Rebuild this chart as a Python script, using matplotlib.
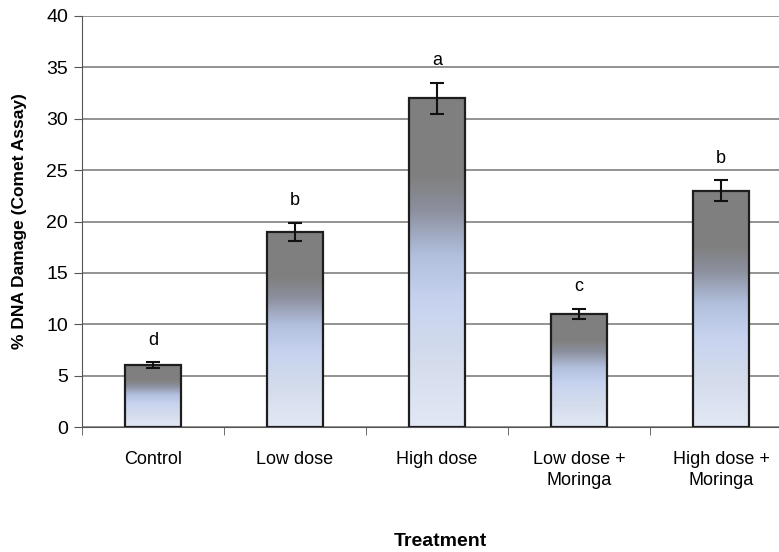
import numpy as np
import matplotlib
matplotlib.use("Agg")
import matplotlib.pyplot as plt
from matplotlib.colors import LinearSegmentedColormap

plt.rcParams['font.family'] = ['Liberation Sans', 'DejaVu Sans']

# data
categories = ["Control", "Low dose", "High dose", "Low dose +\nMoringa", "High dose +\nMoringa"]
damage = [6.0, 19.0, 32.0, 11.0, 23.0]
errors = [0.3, 0.9, 1.5, 0.5, 1.0]
letters = ["d", "b", "a", "c", "b"]

fig = plt.figure(figsize=(7.79, 5.52), dpi=100)
ax = fig.add_axes([82 / 779, 1 - 427 / 552, 710 / 779, (427 - 16) / 552])

x = np.arange(len(categories))
bars = ax.bar(x, damage, width=0.39, facecolor='none', edgecolor='#1e1e1e',
              linewidth=1.6, zorder=3)

# gradient fill, gray at top to pale blue at bottom
cmap = LinearSegmentedColormap.from_list("grad", [
    (0.0, "#e2e8f5"), (0.2, "#d4dcec"), (0.38, "#c7d3ef"),
    (0.52, "#b2c0de"), (0.66, "#8c909e"), (0.76, "#808080"), (1.0, "#7f7f7f")])
grad = np.linspace(0, 1, 256).reshape(-1, 1)
for b in bars:
    x0, w, h = b.get_x(), b.get_width(), b.get_height()
    im = ax.imshow(grad, cmap=cmap, origin='lower', aspect='auto',
                   extent=[x0, x0 + w, 0, h], zorder=2)
    im.set_clip_path(b)

ax.errorbar(x, damage, yerr=errors, fmt='none', ecolor='#111111',
            elinewidth=1.5, capsize=5, capthick=1.5, zorder=4)

for xi, v, e, t in zip(x, damage, errors, letters):
    ax.text(xi, v + e + 1.3, t, ha='center', va='bottom', fontsize=13)

ax.set_xlim(-0.5, 4.5)
ax.set_ylim(0, 40)
ax.set_yticks(range(0, 41, 5))
ax.yaxis.grid(True, color='#808080', linewidth=1.2, zorder=0)
ax.set_axisbelow(True)

ax.set_xticks(x)
ax.set_xticklabels(categories, fontsize=13, linespacing=1.35)
ax.tick_params(axis='x', which='major', length=0, pad=17)
ax.set_xticks(np.arange(-0.5, 5, 1), minor=True)
ax.tick_params(axis='x', which='minor', length=6, color='#555555')
ax.tick_params(axis='y', labelsize=14, length=6, color='#555555', pad=4)

for s in ['top', 'right']:
    ax.spines[s].set_visible(False)
ax.spines['left'].set_color('#555555')
ax.spines['bottom'].set_color('#555555')

ax.set_ylabel("% DNA Damage (Comet Assay)", fontsize=12.5, fontweight='bold', labelpad=14)
fig.text(440 / 779, 1 - 541 / 552, "Treatment", ha='center', va='center',
         fontsize=14, fontweight='bold')

fig.savefig("out.png", dpi=100)
